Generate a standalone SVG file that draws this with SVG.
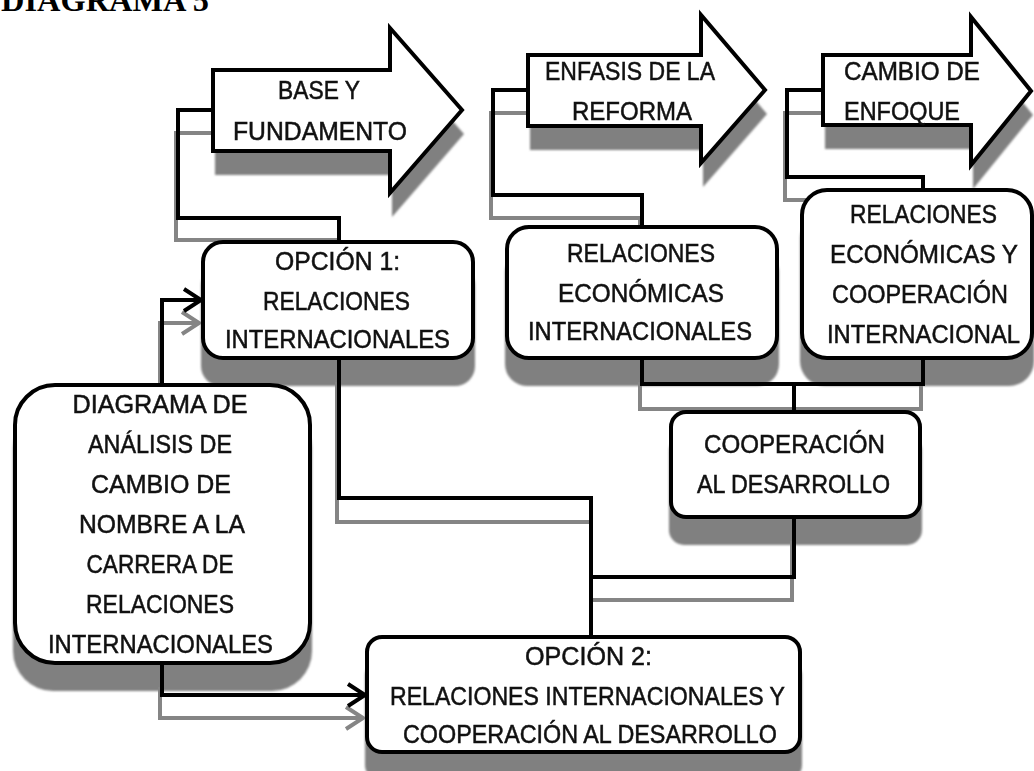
<svg xmlns="http://www.w3.org/2000/svg" width="1034" height="771" viewBox="0 0 1034 771">
<style>
.t{font-family:'Liberation Sans',Arial,sans-serif;font-size:25px;fill:#111;stroke:#111;stroke-width:0.5;text-anchor:middle}
.title{font-family:'Liberation Serif','Times New Roman',serif;font-weight:bold;font-size:32px;fill:#000}
.box{fill:#fff;stroke:#000;stroke-width:4}
.sh{fill:#808080}
.c{fill:none;stroke:#000;stroke-width:4}
.cs{fill:none;stroke:#858585;stroke-width:4}
</style>
<defs>
<filter id="blur" x="-5%" y="-5%" width="110%" height="110%"><feGaussianBlur stdDeviation="1"/></filter>
<marker id="ab" markerUnits="userSpaceOnUse" markerWidth="24" markerHeight="28" viewBox="0 0 24 28" refX="20" refY="14" orient="auto"><path d="M3,3 L20,14 L3,25" fill="none" stroke="#000" stroke-width="4"/></marker>
<marker id="ag" markerUnits="userSpaceOnUse" markerWidth="24" markerHeight="28" viewBox="0 0 24 28" refX="20" refY="14" orient="auto"><path d="M3,3 L20,14 L3,25" fill="none" stroke="#858585" stroke-width="4"/></marker>
</defs>
<rect width="1034" height="771" fill="#fff"/>
<text class="title" x="1" y="11" textLength="208" lengthAdjust="spacingAndGlyphs">DIAGRAMA 5</text>

<g id="shadows" filter="url(#blur)">
<path class="sh" transform="translate(2,24)" d="M213,70 L390,70 L390,28 L462,110 L390,193 L390,151 L213,151 Z"/>
<path class="sh" transform="translate(2,24)" d="M528,55 L701,55 L701,15 L765,90 L701,163 L701,126 L528,126 Z"/>
<path class="sh" transform="translate(2,24)" d="M823,55 L971,55 L971,17 L1031,91 L971,165 L971,125 L823,125 Z"/>
<rect class="sh" x="201" y="266" width="274" height="120" rx="20"/>
<rect class="sh" x="505" y="251" width="274" height="135" rx="22"/>
<rect class="sh" x="800" y="214" width="234" height="172" rx="25"/>
<rect class="sh" x="669" y="436" width="253" height="109" rx="15"/>
<rect class="sh" x="365" y="661" width="437" height="119" rx="15"/>
<rect class="sh" x="13" y="409" width="299" height="282" rx="40"/>
</g>

<g id="connectors">
<g id="connector-shadows">
<path class="cs" d="M337,264 L337,240 L176,240 L176,133 L211,133"/>
<path class="cs" d="M640,249 L640,218 L491,218 L491,113 L526,113"/>
<path class="cs" d="M921,212 L921,200 L785,200 L785,113 L821,113"/>
<path class="cs" d="M640,382 L640,409 L921,409 L921,382"/>
<path class="cs" d="M792,541 L792,600 L589,600"/>
<path class="cs" d="M337,382 L337,522 L589,522"/>
<path class="cs" d="M160,409 L160,323 L199,323" marker-end="url(#ag)"/>
<path class="cs" d="M160,687 L160,718 L363,718" marker-end="url(#ag)"/>
</g>
<path class="c" d="M339,242 L339,218 L178,218 L178,110 L213,110"/>
<path class="c" d="M642,227 L642,195 L493,195 L493,90 L528,90"/>
<path class="c" d="M923,190 L923,177 L787,177 L787,90 L823,90"/>
<path class="c" d="M642,358 L642,384 L923,384 L923,358"/>
<path class="c" d="M794,384 L794,412"/>
<path class="c" d="M794,517 L794,577 L591,577"/>
<path class="c" d="M339,358 L339,498 L591,498 L591,637"/>
<path class="c" d="M162,385 L162,300 L201,300" marker-end="url(#ab)"/>
<path class="c" d="M162,663 L162,695 L365,695" marker-end="url(#ab)"/>
</g>

<g id="arrow-base">
<path class="box" d="M213,70 L390,70 L390,28 L462,110 L390,193 L390,151 L213,151 Z"/>
<text class="t" x="319" y="99" textLength="82" lengthAdjust="spacingAndGlyphs">BASE Y</text>
<text class="t" x="320" y="140" textLength="174" lengthAdjust="spacingAndGlyphs">FUNDAMENTO</text>
</g>
<g id="arrow-enfasis">
<path class="box" d="M528,55 L701,55 L701,15 L765,90 L701,163 L701,126 L528,126 Z"/>
<text class="t" x="630" y="80" textLength="170" lengthAdjust="spacingAndGlyphs">ENFASIS DE LA</text>
<text class="t" x="632" y="120" textLength="120" lengthAdjust="spacingAndGlyphs">REFORMA</text>
</g>
<g id="arrow-cambio">
<path class="box" d="M823,55 L971,55 L971,17 L1031,91 L971,165 L971,125 L823,125 Z"/>
<text class="t" x="912" y="80" textLength="136" lengthAdjust="spacingAndGlyphs">CAMBIO DE</text>
<text class="t" x="902" y="120" textLength="116" lengthAdjust="spacingAndGlyphs">ENFOQUE</text>
</g>

<g id="opcion1">
<rect class="box" x="203" y="242" width="270" height="116" rx="20"/>
<text class="t" x="337.5" y="270" textLength="125" lengthAdjust="spacingAndGlyphs">OPCIÓN 1:</text>
<text class="t" x="336.5" y="310" textLength="147" lengthAdjust="spacingAndGlyphs">RELACIONES</text>
<text class="t" x="337.5" y="348" textLength="225" lengthAdjust="spacingAndGlyphs">INTERNACIONALES</text>
</g>
<g id="rel-econ-int">
<rect class="box" x="507" y="227" width="270" height="131" rx="22"/>
<text class="t" x="641" y="262" textLength="148" lengthAdjust="spacingAndGlyphs">RELACIONES</text>
<text class="t" x="641" y="302" textLength="166" lengthAdjust="spacingAndGlyphs">ECONÓMICAS</text>
<text class="t" x="640" y="340" textLength="224" lengthAdjust="spacingAndGlyphs">INTERNACIONALES</text>
</g>
<g id="rel-econ-coop">
<rect class="box" x="802" y="190" width="230" height="168" rx="25"/>
<text class="t" x="923.5" y="223" textLength="147" lengthAdjust="spacingAndGlyphs">RELACIONES</text>
<text class="t" x="924" y="263" textLength="188" lengthAdjust="spacingAndGlyphs">ECONÓMICAS Y</text>
<text class="t" x="920" y="303" textLength="176" lengthAdjust="spacingAndGlyphs">COOPERACIÓN</text>
<text class="t" x="923.5" y="343" textLength="193" lengthAdjust="spacingAndGlyphs">INTERNACIONAL</text>
</g>
<g id="coop-desarrollo">
<rect class="box" x="671" y="412" width="249" height="105" rx="15"/>
<text class="t" x="794.5" y="453" textLength="181" lengthAdjust="spacingAndGlyphs">COOPERACIÓN</text>
<text class="t" x="793.5" y="493" textLength="193" lengthAdjust="spacingAndGlyphs">AL DESARROLLO</text>
</g>
<g id="diagrama">
<rect class="box" x="15" y="385" width="295" height="278" rx="40"/>
<text class="t" x="160" y="413" textLength="175" lengthAdjust="spacingAndGlyphs">DIAGRAMA DE</text>
<text class="t" x="160" y="453" textLength="144" lengthAdjust="spacingAndGlyphs">ANÁLISIS DE</text>
<text class="t" x="161" y="493" textLength="140" lengthAdjust="spacingAndGlyphs">CAMBIO DE</text>
<text class="t" x="162" y="533" textLength="166" lengthAdjust="spacingAndGlyphs">NOMBRE A LA</text>
<text class="t" x="160" y="573" textLength="147" lengthAdjust="spacingAndGlyphs">CARRERA DE</text>
<text class="t" x="160" y="613" textLength="148" lengthAdjust="spacingAndGlyphs">RELACIONES</text>
<text class="t" x="160.5" y="653" textLength="225" lengthAdjust="spacingAndGlyphs">INTERNACIONALES</text>
</g>
<g id="opcion2">
<rect class="box" x="367" y="637" width="433" height="115" rx="15"/>
<text class="t" x="588.5" y="665" textLength="127" lengthAdjust="spacingAndGlyphs">OPCIÓN 2:</text>
<text class="t" x="587.5" y="705" textLength="395" lengthAdjust="spacingAndGlyphs">RELACIONES INTERNACIONALES Y</text>
<text class="t" x="590" y="743" textLength="374" lengthAdjust="spacingAndGlyphs">COOPERACIÓN AL DESARROLLO</text>
</g>
</svg>
